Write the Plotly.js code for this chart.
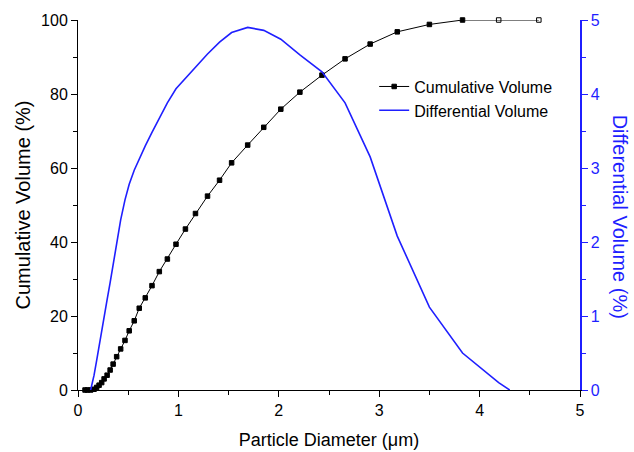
<!DOCTYPE html>
<html>
<head>
<meta charset="utf-8">
<script src="https://cdn.plot.ly/plotly-3.0.1.min.js"></script>
<style>html,body{margin:0;padding:0;background:#fff;}#chart{width:634px;height:452px;}</style>
</head>
<body>
<div id="chart"></div>
<script>
// Cumulative volume (%) vs particle diameter (µm)
const cumDiameter = [0.07, 0.093, 0.126, 0.16, 0.186, 0.21, 0.236, 0.26, 0.29, 0.32, 0.35, 0.385, 0.425, 0.468, 0.51, 0.56, 0.61, 0.67, 0.737, 0.81, 0.89, 0.976, 1.07, 1.17, 1.29, 1.41, 1.53, 1.69, 1.85, 2.02, 2.21, 2.43, 2.66, 2.91, 3.18, 3.50, 3.83, 4.19, 4.59];
const cumVolume = [0, 0, 0, 0.2, 0.7, 1.3, 2.0, 3.0, 4.0, 5.4, 7.0, 9.0, 11.1, 13.4, 16.0, 18.7, 22.1, 24.9, 28.2, 32.0, 35.4, 39.4, 43.5, 47.7, 52.4, 56.7, 61.4, 66.2, 71.0, 75.9, 80.5, 85.1, 89.5, 93.5, 96.8, 98.8, 100, 100, 100];
const cumSymbols = ['square','square','square','square','square','square','square','square','square','square','square','square','square','square','square','square','square','square','square','square','square','square','square','square','square','square','square','square','square','square','square','square','square','square','square','square','square','square-open','square-open'];

// Differential volume (%) vs particle diameter (µm)
const difDiameter = [0.126, 0.16, 0.186, 0.21, 0.236, 0.26, 0.29, 0.32, 0.35, 0.385, 0.425, 0.468, 0.51, 0.56, 0.61, 0.67, 0.737, 0.81, 0.89, 0.976, 1.07, 1.17, 1.29, 1.41, 1.53, 1.69, 1.85, 2.02, 2.21, 2.43, 2.66, 2.91, 3.18, 3.50, 3.83, 4.19, 4.30];
const difVolume = [0, 0.2, 0.4, 0.6, 0.8, 0.98, 1.22, 1.45, 1.7, 1.98, 2.3, 2.57, 2.78, 2.97, 3.13, 3.3, 3.48, 3.68, 3.88, 4.07, 4.21, 4.36, 4.54, 4.7, 4.83, 4.9, 4.86, 4.74, 4.53, 4.3, 3.88, 3.15, 2.08, 1.12, 0.5, 0.1, 0];

const xTicks = [0, 1, 2, 3, 4, 5];
const yTicks = [0, 20, 40, 60, 80, 100];
const y2Ticks = [0, 1, 2, 3, 4, 5];

const FONT = 'Liberation Sans, Arial, sans-serif';
const BLUE = '#1f1fff';

const traces = [
  {
    x: cumDiameter, y: cumVolume, name: 'Cumulative Volume',
    type: 'scatter', mode: 'lines+markers',
    line: {color: '#000', width: 1},
    marker: {symbol: cumSymbols, size: 4.5, color: '#000', line: {color: '#000', width: 1}},
    xaxis: 'x', yaxis: 'y', cliponaxis: false
  },
  {
    x: difDiameter, y: difVolume, name: 'Differential Volume',
    type: 'scatter', mode: 'lines',
    line: {color: BLUE, width: 1.6},
    xaxis: 'x', yaxis: 'y2', cliponaxis: false
  }
];

const layout = {
  width: 634, height: 452,
  margin: {l: 78, r: 54, t: 20, b: 62},
  paper_bgcolor: '#fff', plot_bgcolor: '#fff',
  font: {family: FONT, size: 16, color: '#000'},
  showlegend: true,
  legend: {
    x: 0.59, y: 0.866, xanchor: 'left', yanchor: 'top',
    bgcolor: 'rgba(0,0,0,0)', font: {family: FONT, size: 16, color: '#000'},
    tracegroupgap: 0, itemwidth: 30
  },
  xaxis: {
    range: [0, 5], tickvals: xTicks, ticktext: xTicks.map(String),
    showgrid: false, zeroline: false, showline: true, linecolor: '#000', linewidth: 1,
    ticks: 'outside', ticklen: 6, tickcolor: '#000',
    minor: {dtick: 0.5, ticklen: 4, ticks: 'outside', tickcolor: '#000'},
    tickfont: {family: FONT, size: 16, color: '#000'},
    title: {text: 'Particle Diameter (\u03bcm)', font: {family: FONT, size: 18, color: '#000'}, standoff: 15}
  },
  xaxis2: {
    range: [0, 5], overlaying: 'x', side: 'top', anchor: 'y',
    tickvals: xTicks, showticklabels: false,
    showgrid: false, zeroline: false, showline: true, linecolor: '#000', linewidth: 1,
    ticks: 'inside', ticklen: 6, tickcolor: '#000',
    minor: {dtick: 0.5, ticklen: 4, ticks: 'inside', tickcolor: '#000'}
  },
  yaxis: {
    range: [0, 100], tickvals: yTicks, ticktext: yTicks.map(String),
    showgrid: false, zeroline: false, showline: true, linecolor: '#000', linewidth: 1,
    ticks: 'outside', ticklen: 6, tickcolor: '#000',
    minor: {dtick: 10, ticklen: 4, ticks: 'outside', tickcolor: '#000'},
    tickfont: {family: FONT, size: 16, color: '#000'},
    title: {text: 'Cumulative Volume (%)', font: {family: FONT, size: 20, color: '#000'}, standoff: 5}
  },
  yaxis2: {
    range: [0, 5], overlaying: 'y', side: 'right', anchor: 'x',
    tickvals: y2Ticks, ticktext: y2Ticks.map(String),
    showgrid: false, zeroline: false, showline: true, linecolor: BLUE, linewidth: 1.5,
    ticks: 'outside', ticklen: 6, tickcolor: BLUE,
    minor: {dtick: 0.5, ticklen: 4, ticks: 'outside', tickcolor: BLUE},
    tickfont: {family: FONT, size: 16, color: BLUE}
  },
  annotations: [
    {
      text: 'Differential Volume (%)', xref: 'paper', yref: 'paper',
      x: 1.08, y: 0.468, xanchor: 'center', yanchor: 'middle',
      textangle: 90, showarrow: false,
      font: {family: FONT, size: 20, color: BLUE}
    }
  ]
};

Plotly.newPlot('chart', traces, layout, {displayModeBar: false, staticPlot: true});
</script>
</body>
</html>
